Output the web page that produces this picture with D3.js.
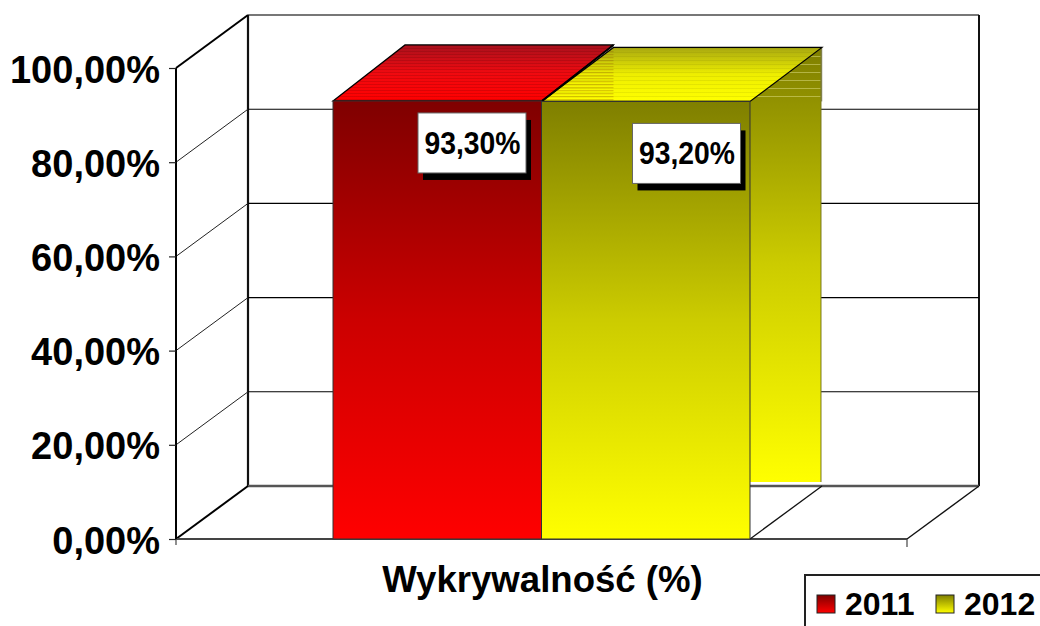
<!DOCTYPE html>
<html><head><meta charset="utf-8">
<script src="https://cdn.jsdelivr.net/npm/d3@7"></script>
<style>
html,body{margin:0;padding:0;background:#fff;overflow:hidden}
svg{display:block}
text{font-family:"Liberation Sans",Arial,sans-serif;font-weight:bold;fill:#000}
</style></head><body>
<script>
const seriesNames = ["2011", "2012"];
const seriesValues = [93.3, 93.2];
const seriesLabels = ["93,30%", "93,20%"];
const categoryLabel = "Wykrywalność (%)";
const yTicks = [0, 20, 40, 60, 80, 100];
const footerText = "2011-2012";

const W = 1040, H = 626;
const depthX = 72, depthY = 53;
const left = 176, right = 907;
const y = d3.scaleLinear().domain([0, 100]).range([539, 68]);
const x = d3.scaleBand().domain(seriesNames).range([left, right]).paddingInner(0).paddingOuter(0.753);
const fmt = d3.formatLocale({decimal: ",", thousands: " ", grouping: [3], currency: ["", ""]}).format(".2f");

const svg = d3.select("body").append("svg").attr("width", W).attr("height", H);
const defs = svg.append("defs");

function vGrad(id, y1, y2, stops) {
  const g = defs.append("linearGradient").attr("id", id)
    .attr("gradientUnits", "userSpaceOnUse")
    .attr("x1", 0).attr("x2", 0).attr("y1", y1).attr("y2", y2);
  stops.forEach((c, i) => g.append("stop").attr("offset", i / (stops.length - 1)).attr("stop-color", c));
}
function stripes(id, period, thick, color) {
  const p = defs.append("pattern").attr("id", id).attr("patternUnits", "userSpaceOnUse")
    .attr("width", 8).attr("height", period);
  p.append("rect").attr("width", 8).attr("height", thick).attr("fill", color);
}
const poly = pts => d3.line()(pts) + "Z";
const line = (g, x1, y1, x2, y2, sw, col) => g.append("line")
  .attr("x1", x1).attr("y1", y1).attr("x2", x2).attr("y2", y2)
  .attr("stroke", col || "#000").attr("stroke-width", sw);

const floorY = y(0), backX = left + depthX, backRight = right + depthX;

// walls
const walls = svg.append("g");
line(walls, backX, y(100) - depthY, backRight, y(100) - depthY, 2, "#777");
line(walls, backRight, y(100) - depthY, backRight, floorY - depthY, 2, "#111");
line(walls, backX, y(100) - depthY, backX, floorY - depthY, 2.2, "#111");
line(walls, backX, floorY - depthY, backRight, floorY - depthY, 2.4, "#555");
yTicks.filter(t => t > 0 && t < 100).forEach(t => {
  line(walls, backX, y(t) - depthY, backRight, y(t) - depthY, 1.1, "#000");
});
yTicks.filter(t => t > 0 && t < 100).forEach(t => {
  line(walls, left, y(t), backX, y(t) - depthY, 1, "#222");
});
line(walls, left, y(100), backX, y(100) - depthY, 2, "#000");
line(walls, left, floorY, backX, floorY - depthY, 2, "#000");
line(walls, right, floorY, backRight, floorY - depthY, 1.4, "#111");
line(walls, left, floorY, right, floorY, 2, "#444");
line(walls, right, floorY, right, floorY + 8, 1.2, "#444");
line(walls, left, floorY, left, floorY + 6, 1.2, "#444");

// y axis
const axis = svg.append("g").attr("transform", `translate(${left},0)`)
  .call(d3.axisLeft(y).tickValues(yTicks).tickSize(7).tickPadding(9).tickFormat(d => fmt(d) + "%"));
axis.select(".domain").attr("stroke", "#000").attr("stroke-width", 2).attr("d", `M0,${y(100)}V${y(0)}`);
axis.selectAll(".tick line").attr("stroke", "#222").attr("stroke-width", 1.2);
axis.selectAll(".tick text").attr("font-size", 38).attr("dy", 14)
  .style("font-family", '"Liberation Sans",Arial,sans-serif').style("font-weight", "bold").attr("fill", "#000");

// bars
const colors = {
  "2011": {dark: "#7f0000", mid: "#cc0000", bright: "#ff0000", topBack: "#a8101c", topMid: "#f00a10", rise: 56},
  "2012": {dark: "#7f7f00", mid: "#cccc00", bright: "#ffff00", topBack: "#a8a810", topMid: "#eeee00", rise: 54}
};
const topInset = 1.4;
const barsG = svg.append("g");
const topY = d3.scaleLinear().domain(y.domain()).range(y.range().map(v => v + topInset));

seriesNames.forEach((s, i) => {
  const c = colors[s], t = topY(seriesValues[i]);
  vGrad("front" + s, t, floorY, [c.dark, c.mid, c.bright]);
  vGrad("top" + s, t - c.rise, t, [c.topBack, c.topMid, c.bright]);
  vGrad("side" + s, t - c.rise, floorY - depthY - 4, [c.dark, c.mid, c.bright]);
});
stripes("stripeDark", 3, 1, "rgba(60,0,0,.16)");
stripes("stripeAmber", 3, 1.3, "rgba(130,70,0,.26)");
stripes("stripeSoft", 4, 1, "rgba(90,90,0,.10)");
stripes("stripeLight", 8, 1, "rgba(235,235,150,.45)");

// side of last bar: its lower end is cut flat, as in the source rendering
{
  const s = seriesNames[1], c = colors[s], t = topY(seriesValues[1]);
  const x0 = x(s) + x.bandwidth(), x1 = x0 + depthX - 1, yb = floorY - depthY - 4;
  const d = poly([[x0, t], [x1, t - c.rise], [x1, yb], [x0, yb]]);
  barsG.append("path").attr("d", d).attr("fill", "url(#side2012)");
  const cp = defs.append("clipPath").attr("id", "sideTop");
  cp.append("rect").attr("x", x0).attr("y", t - c.rise).attr("width", depthX).attr("height", c.rise);
  barsG.append("path").attr("d", d).attr("fill", "url(#stripeLight)").attr("clip-path", "url(#sideTop)");
  line(barsG, x1 + .5, t - c.rise, x1 + .5, t, 1.5, "#8a8a70");
  line(barsG, x1, t - c.rise, x1, yb, 1, "#777720");
}
line(barsG, x(seriesNames[1]) + x.bandwidth(), floorY, x(seriesNames[1]) + x.bandwidth() + depthX, floorY - depthY, 1.3, "#111");

seriesNames.forEach((s, i) => {
  const c = colors[s], t = topY(seriesValues[i]), x0 = x(s), x1 = x0 + x.bandwidth();
  const d = poly([[x0, t], [x0 + depthX, t - c.rise], [x1 + depthX, t - c.rise], [x1, t]]);
  barsG.append("path").attr("d", d).attr("fill", `url(#top${s})`);
  barsG.append("path").attr("d", d).attr("fill", i === 0 ? "url(#stripeDark)" : "url(#stripeSoft)");
  if (i === 1) {
    const cp = defs.append("clipPath").attr("id", "overlap");
    cp.append("rect").attr("x", x0).attr("y", t - c.rise).attr("width", depthX).attr("height", c.rise);
    barsG.append("path").attr("d", d).attr("fill", "url(#stripeAmber)").attr("clip-path", "url(#overlap)");
  }
  barsG.append("path").attr("d", d).attr("fill", "none").attr("stroke", "#000").attr("stroke-width", 1.2);
});
line(barsG, x(seriesNames[1]), topY(seriesValues[1]), x(seriesNames[1]) + depthX, topY(seriesValues[0]) - colors["2011"].rise, 2, "#000");

barsG.selectAll("rect.front").data(seriesNames).join("rect").attr("class", "front")
  .attr("x", d => x(d)).attr("width", x.bandwidth())
  .attr("y", (d, i) => topY(seriesValues[i]))
  .attr("height", (d, i) => floorY - topY(seriesValues[i]))
  .attr("fill", d => `url(#front${d})`)
  .attr("stroke", "#333").attr("stroke-width", 1);

// data labels
const labelW = 108, labelH = 60, shadowX = 5, shadowY = 7;
const labelOffset = [[85, 12], [91, 22]];
seriesNames.forEach((s, i) => {
  const t = topY(seriesValues[i]);
  const lx = x(s) + labelOffset[i][0], ly = t + labelOffset[i][1];
  svg.append("rect").attr("x", lx + shadowX).attr("y", ly + shadowY).attr("width", labelW).attr("height", labelH).attr("fill", "#000");
  svg.append("rect").attr("x", lx).attr("y", ly).attr("width", labelW).attr("height", labelH)
    .attr("fill", "#fff").attr("stroke", "#666").attr("stroke-width", 1);
  svg.append("text").attr("x", lx + 6.5).attr("y", ly + 41).attr("font-size", 31)
    .attr("textLength", 96).attr("lengthAdjust", "spacingAndGlyphs").text(seriesLabels[i]);
});

// category label
svg.append("text").attr("x", (left + right) / 2 + 1).attr("y", 592).attr("text-anchor", "middle")
  .attr("font-size", 36.6).text(categoryLabel);

// legend
const lg = svg.append("g");
lg.append("rect").attr("x", 805).attr("y", 575).attr("width", 300).attr("height", 100)
  .attr("fill", "#fff").attr("stroke", "#222").attr("stroke-width", 2);
const legendX = d3.scaleOrdinal().domain(seriesNames).range([817, 936]);
seriesNames.forEach(s => {
  const g = defs.append("linearGradient").attr("id", "legendBox" + s).attr("x1", 0).attr("x2", 0).attr("y1", 0).attr("y2", 1);
  g.append("stop").attr("offset", 0).attr("stop-color", colors[s].dark);
  g.append("stop").attr("offset", 1).attr("stop-color", colors[s].bright);
  lg.append("rect").attr("x", legendX(s)).attr("y", 595).attr("width", 18).attr("height", 18)
    .attr("fill", `url(#legendBox${s})`).attr("stroke", "#222").attr("stroke-width", 1);
  lg.append("text").attr("x", legendX(s) + 28).attr("y", 615).attr("font-size", 32).text(s);
});

// footer, almost entirely outside the picture as in the reference
svg.append("text").attr("x", 773).attr("y", 649).attr("text-anchor", "end").attr("font-size", 31)
  .style("fill", "#999").text(footerText);
</script>
</body></html>
